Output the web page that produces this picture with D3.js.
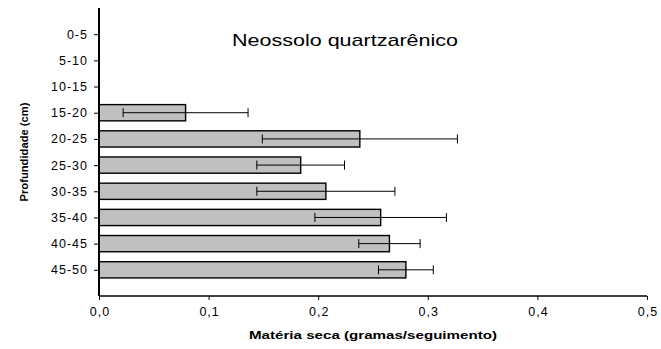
<!DOCTYPE html>
<html>
<head>
<meta charset="utf-8">
<script src="https://cdn.jsdelivr.net/npm/d3@7/dist/d3.min.js"></script>
<style>
  html, body { margin: 0; padding: 0; background: #fff; }
  svg { display: block; font-family: "Liberation Sans", Arial, sans-serif; }
</style>
</head>
<body>
<svg id="chart" width="661" height="349"></svg>
<script>
// Depth layers (cm), top to bottom
const depths = ["0-5", "5-10", "10-15", "15-20", "20-25", "25-30", "30-35", "35-40", "40-45", "45-50"];
// Mean dry matter per layer (null = no roots found)
const dryMatter = [null, null, null, 0.079, 0.238, 0.184, 0.207, 0.257, 0.265, 0.280];
// Error (± deviation) for each layer
const errors = [null, null, null, 0.057, 0.089, 0.040, 0.063, 0.060, 0.028, 0.025];
// X-axis ticks
const xTicks = [0, 0.1, 0.2, 0.3, 0.4, 0.5];

const title = "Neossolo quartzarênico";
const xTitle = "Matéria seca (gramas/seguimento)";
const yTitle = "Profundidade (cm)";

const svg = d3.select("#chart");
const plotLeft = 99, plotRight = 647, plotTop = 8, plotBottom = 296;

const x = d3.scaleLinear().domain([0, 0.5]).range([plotLeft, plotRight]);
const y = d3.scalePoint().domain(depths).range([plotTop, plotBottom]).padding(1);
const barH = y.step() * 0.62;

const rows = depths.map((d, i) => ({ depth: d, value: dryMatter[i], err: errors[i] }))
  .filter(r => r.value != null);

// Bars
svg.append("g").selectAll("rect").data(rows).join("rect")
  .attr("x", x(0))
  .attr("y", d => y(d.depth) - barH / 2)
  .attr("width", d => x(d.value) - x(0))
  .attr("height", barH)
  .attr("fill", "#c0c0c0")
  .attr("stroke", "#000")
  .attr("stroke-width", 1.4);

// Error bars
const eb = svg.append("g").attr("stroke", "#000").attr("stroke-width", 1);
eb.selectAll("line.h").data(rows).join("line").attr("class", "h")
  .attr("x1", d => x(d.value - d.err)).attr("x2", d => x(d.value + d.err))
  .attr("y1", d => y(d.depth)).attr("y2", d => y(d.depth));
[-1, 1].forEach(s => {
  const cls = s > 0 ? "cp" : "cm";
  eb.selectAll("line." + cls).data(rows).join("line")
    .attr("class", cls)
    .attr("x1", d => x(d.value + s * d.err)).attr("x2", d => x(d.value + s * d.err))
    .attr("y1", d => y(d.depth) - 4.5).attr("y2", d => y(d.depth) + 4.5);
});

// X axis
const xAxis = svg.append("g").attr("transform", `translate(0,${plotBottom})`)
  .call(d3.axisBottom(x).tickValues(xTicks).tickSize(4).tickSizeOuter(0)
    .tickFormat(d => d3.format(".1f")(d).replace(".", ",")));
xAxis.select(".domain").attr("stroke", "#000").attr("stroke-width", 1.5)
  .attr("d", `M${plotLeft},0H${plotRight}`);
xAxis.selectAll(".tick line").attr("stroke", "#000");
xAxis.selectAll(".tick text").attr("font-size", 12.5).attr("fill", "#000")
  .attr("y", 11).attr("letter-spacing", 1).attr("dx", 0.5)
  .attr("font-family", "Liberation Sans, Arial, sans-serif");

// Y axis
const yAxis = svg.append("g").attr("transform", `translate(${plotLeft},0)`)
  .call(d3.axisLeft(y).tickSize(5).tickSizeOuter(0));
yAxis.select(".domain").attr("stroke", "#000").attr("stroke-width", 2)
  .attr("d", `M0,${plotTop}V${plotBottom}`);
yAxis.selectAll(".tick line").attr("stroke", "#000");
yAxis.selectAll(".tick text").attr("font-size", 12.5).attr("fill", "#000")
  .attr("x", -11).attr("letter-spacing", 1)
  .attr("font-family", "Liberation Sans, Arial, sans-serif");

// Titles
svg.append("text").attr("x", 345).attr("y", 46).attr("text-anchor", "middle")
  .attr("font-size", 17).attr("fill", "#000")
  .attr("textLength", 226).attr("lengthAdjust", "spacingAndGlyphs").text(title);

svg.append("text").attr("x", (plotLeft + plotRight) / 2).attr("y", 339).attr("text-anchor", "middle")
  .attr("font-size", 11).attr("font-weight", "bold").attr("fill", "#000")
  .attr("textLength", 248).attr("lengthAdjust", "spacingAndGlyphs").text(xTitle);

svg.append("text").attr("transform", `translate(28,152) rotate(-90)`)
  .attr("text-anchor", "middle").attr("font-size", 10.5).attr("font-weight", "bold")
  .attr("textLength", 99).attr("lengthAdjust", "spacingAndGlyphs")
  .attr("fill", "#000").text(yTitle);
</script>
</body>
</html>
